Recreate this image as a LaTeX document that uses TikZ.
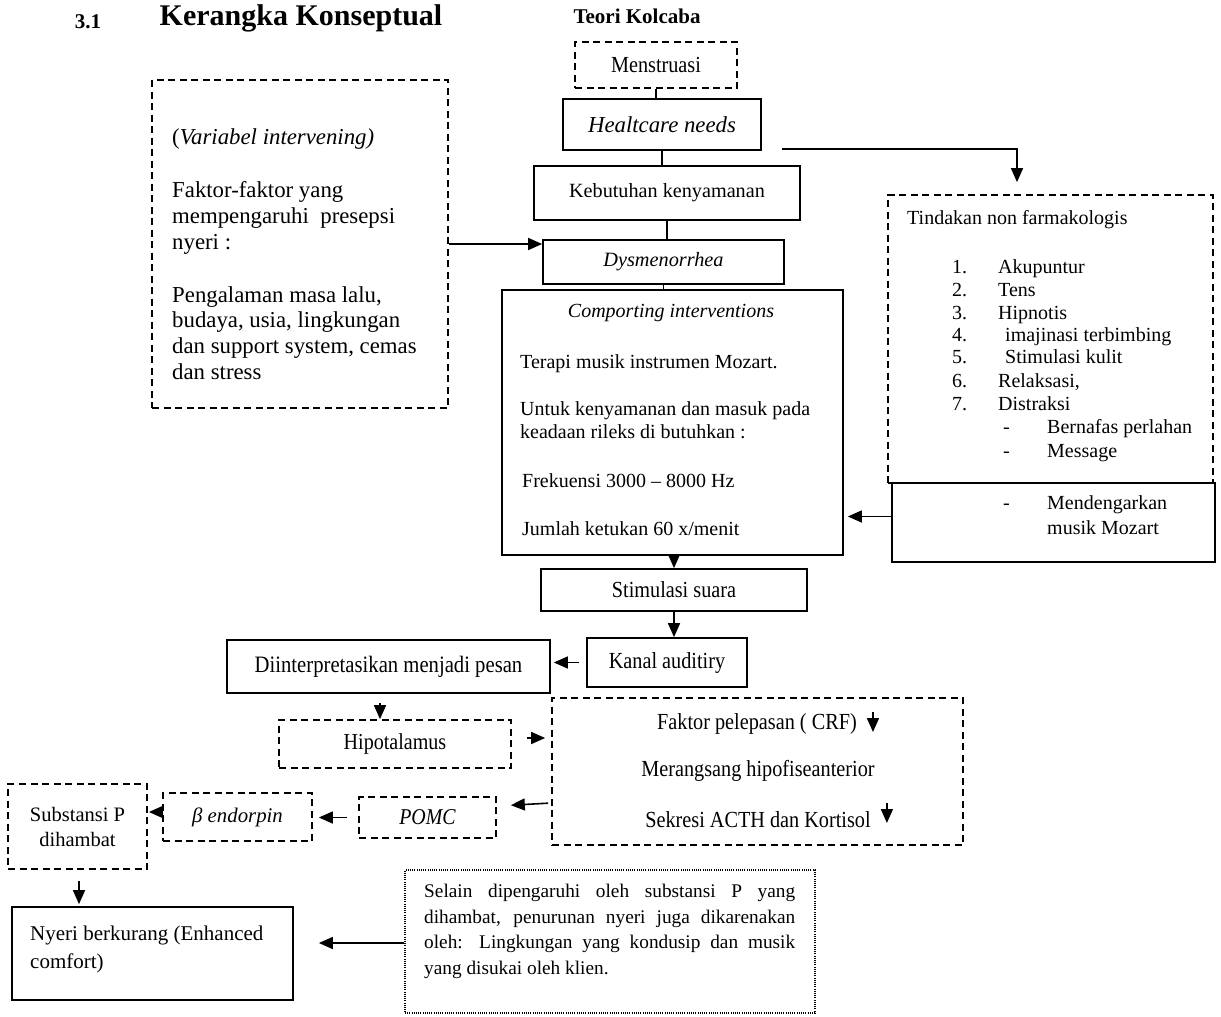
\documentclass[tikz,border=0pt]{standalone}
\usepackage{fontspec}
\setmainfont{Liberation Serif}
\newfontfamily\cond[FakeStretch=0.88]{Liberation Serif}
\usetikzlibrary{arrows.meta,calc}
\begin{document}
\begin{tikzpicture}[x=1pt,y=-1pt,
  solidbox/.style={draw,line width=1.7pt,inner sep=0pt},
  dashbox/.style={draw,line width=1.7pt,dash pattern=on 7pt off 4.5pt,inner sep=0pt},
  dotbox/.style={draw,line width=1.3pt,dash pattern=on 1pt off 1.2pt,inner sep=0pt},
  conn/.style={line width=1.6pt},
  arr/.style={line width=1.6pt,-{Triangle[length=14pt,width=12pt]}},
  txt/.style={inner sep=0pt,font=\fontsize{20}{23}\selectfont},
  big/.style={inner sep=0pt,font=\fontsize{22.8}{26}\selectfont},
  ctxt/.style={inner sep=0pt,font=\cond\fontsize{23}{26}\selectfont},
]
\useasboundingbox[fill=white] (0,0) rectangle (1221,1017);

% titles
\node[inner sep=0pt,font=\bfseries\fontsize{21}{24}\selectfont] (num) at (88,22) {3.1};
\node[inner sep=0pt,font=\bfseries\fontsize{30}{34}\selectfont] (title) at (301,18) {Kerangka Konseptual};
\node[inner sep=0pt,font=\bfseries\fontsize{21}{24}\selectfont] (teori) at (637,16) {Teori Kolcaba};

% main column
\node[dashbox,minimum width=162,minimum height=46,font=\cond\fontsize{23}{26}\selectfont] (men) at (656,65) {Menstruasi};
\node[solidbox,minimum width=198,minimum height=51,font=\itshape\fontsize{22.8}{26}\selectfont] (hc) at (662,124.5) {Healtcare needs};
\node[solidbox,minimum width=266,minimum height=54,font=\fontsize{20.2}{24}\selectfont] (keb) at (667,193) {Kebutuhan kenyamanan};
\node[solidbox,minimum width=241,minimum height=44,font=\itshape\fontsize{20.3}{24}\selectfont] (dys) at (663.5,262) {Dysmenorrhea};
\node[solidbox,minimum width=341,minimum height=265] (comp) at (672.5,422.5) {};

\node[txt,font=\itshape\fontsize{20}{23}\selectfont] (ci) at (671,313) {Comporting interventions};
\node[txt,anchor=base west] (c1) at (520,368) {Terapi musik instrumen Mozart.};
\node[txt,anchor=base west] (c2) at (520,415) {Untuk kenyamanan dan masuk pada};
\node[txt,anchor=base west] (c3) at (520,438) {keadaan rileks di butuhkan :};
\node[txt,anchor=base west] (c4) at (522,487) {Frekuensi 3000 -- 8000 Hz};
\node[txt,anchor=base west] (c5) at (522,535) {Jumlah ketukan 60 x/menit};

% left dashed box
\node[dashbox,minimum width=296,minimum height=328] (lbox) at (300,244) {};
\node[big,anchor=base west] (l1) at (172,144) {(\textit{Variabel intervening)}};
\node[big,anchor=base west] (l2) at (172,197) {Faktor-faktor yang};
\node[big,anchor=base west] (l3) at (172,223) {mempengaruhi\ \ presepsi};
\node[big,anchor=base west] (l4) at (172,249) {nyeri :};
\node[big,anchor=base west] (l5) at (172,302) {Pengalaman masa lalu,};
\node[big,anchor=base west] (l6) at (172,327) {budaya, usia, lingkungan};
\node[big,anchor=base west] (l7) at (172,353) {dan support system, cemas};
\node[big,anchor=base west] (l8) at (172,379) {dan stress};

% right boxes
\node[dashbox,minimum width=325,minimum height=288] (rbox) at (1050.5,339) {};
\node[solidbox,minimum width=323,minimum height=79] (rsolid) at (1053.5,522.5) {};
\node[txt,anchor=base west] (tnf) at (907,224) {Tindakan non farmakologis};
\foreach \n/\t/\y/\x in {1/Akupuntur/273/998,2/Tens/296/998,3/Hipnotis/319/998,4/imajinasi terbimbing/341/1005,5/Stimulasi kulit/363/1005,6/{Relaksasi,}/387/998,7/Distraksi/410/998}{
  \node[txt,anchor=base west] (nr\n) at (952,\y) {\n.};
  \node[txt,anchor=base west] (it\n) at (\x,\y) {\t};
}
\node[txt,anchor=base west] (d1) at (1003,433) {-};
\node[txt,anchor=base west] (s1) at (1047,433) {Bernafas perlahan};
\node[txt,anchor=base west] (d2) at (1003,457) {-};
\node[txt,anchor=base west] (s2) at (1047,457) {Message};
\node[txt,anchor=base west] (d3) at (1003,509) {-};
\node[txt,anchor=base west] (s3) at (1047,509) {Mendengarkan};
\node[txt,anchor=base west] (s4) at (1047,534) {musik Mozart};

% lower chain
\node[solidbox,minimum width=266,minimum height=42,font=\cond\fontsize{23}{26}\selectfont] (stim) at (674,590) {Stimulasi suara};
\node[solidbox,minimum width=160,minimum height=49,font=\cond\fontsize{23}{26}\selectfont] (kanal) at (667,662.5) {Kanal auditiry};
\node[solidbox,minimum width=323,minimum height=53,font=\cond\fontsize{23.5}{26}\selectfont] (diint) at (388.5,666.5) {Diinterpretasikan menjadi pesan};
\node[dashbox,minimum width=232,minimum height=48,font=\cond\fontsize{22.8}{26}\selectfont] (hipo) at (395,744) {Hipotalamus};
\node[dashbox,minimum width=411,minimum height=147] (bigb) at (757.5,771.5) {};
\node[ctxt] (crf) at (757,724) {Faktor pelepasan ( CRF)};
\node[ctxt] (mer) at (758,771) {Merangsang hipofiseanterior};
\node[ctxt] (sek) at (758,820) {Sekresi ACTH dan Kortisol};
\draw[arr] ([xshift=16pt,yshift=12pt]crf.east) -- ++(0,20);
\draw[arr] ([xshift=16pt,yshift=17pt]sek.east) -- ++(0,20);
\node[dashbox,minimum width=137,minimum height=41,font=\cond\itshape\fontsize{22.6}{26}\selectfont] (pomc) at (427.5,817.5) {POMC};
\node[dashbox,minimum width=149,minimum height=48,font=\itshape\fontsize{20.8}{24}\selectfont] (beta) at (237.5,817) {β endorpin};
\node[dashbox,minimum width=139,minimum height=85,align=center,font=\fontsize{20.5}{25}\selectfont] (subs) at (77.5,826.5) {Substansi P\\dihambat};
\node[solidbox,minimum width=281,minimum height=93] (nyeri) at (152.5,953.5) {};
\node[inner sep=0pt,anchor=base west,font=\fontsize{21}{28}\selectfont] (ny1) at (30,940) {Nyeri berkurang (Enhanced};
\node[inner sep=0pt,anchor=base west,font=\fontsize{21}{28}\selectfont] (ny2) at (30,968) {comfort)};
\node[dotbox,minimum width=410,minimum height=143] (dotb) at (610,941.5) {};
\node[inner sep=0pt,anchor=north west,text width=371pt,align=justify,font=\fontsize{19.3}{25.5}\selectfont] (dtxt) at (424,884) {Selain dipengaruhi oleh substansi P yang\linebreak dihambat, penurunan nyeri juga dikarenakan\linebreak oleh: Lingkungan yang kondusip dan musik\linebreak yang disukai oleh klien.};

% connectors
\draw[conn] (men.south) -- (men.south |- hc.north);
\draw[conn] (hc.south) -- (hc.south |- keb.north);
\draw[conn] (keb.south) -- (keb.south |- dys.north);
\draw[conn] (dys.south) -- (dys.south |- comp.north);
\draw[arr] ([xshift=20pt,yshift=2pt]hc.south east) -| ([yshift=12pt]rbox.north -| 1017,0);
\draw[arr] (lbox.east) -- (dys.north west |- lbox.east);
\draw[arr] ([yshift=6pt]rsolid.west) -- ([yshift=6pt,xshift=4pt]comp.east |- rsolid.west);
\draw[arr] (comp.south -| stim.north) -- (stim.north);
\draw[arr] (stim.south) -- (stim.south |- kanal.north);
\draw[arr,shorten <=7pt,shorten >=3pt] (kanal.west) -- (kanal.west -| diint.east);
\draw[arr,shorten <=9pt] ([xshift=-8.5pt]diint.south) -- ([xshift=-8.5pt]diint.south |- hipo.north);
\draw[arr,shorten <=15pt,shorten >=6pt] ([yshift=6pt]hipo.east) -- ([yshift=6pt]hipo.east -| bigb.west);
\draw[arr,shorten <=3pt,shorten >=14pt] ([yshift=-31.5pt]bigb.west) -- ([yshift=11.5pt]pomc.east);
\draw[arr,shorten <=11pt,shorten >=6pt] (pomc.west) -- (pomc.west -| beta.east);
\draw[arr,shorten >=1pt] ([yshift=5pt]beta.west) -- ([yshift=5pt]beta.west -| subs.east);
\draw[arr,shorten <=11pt,shorten >=2pt] ([xshift=1.5pt]subs.south) -- ([xshift=1.5pt]subs.south |- nyeri.north);
\draw[arr,shorten >=25pt] ([yshift=-1.5pt]dotb.west) -- ([yshift=-1.5pt]dotb.west -| nyeri.east);
\end{tikzpicture}
\end{document}
